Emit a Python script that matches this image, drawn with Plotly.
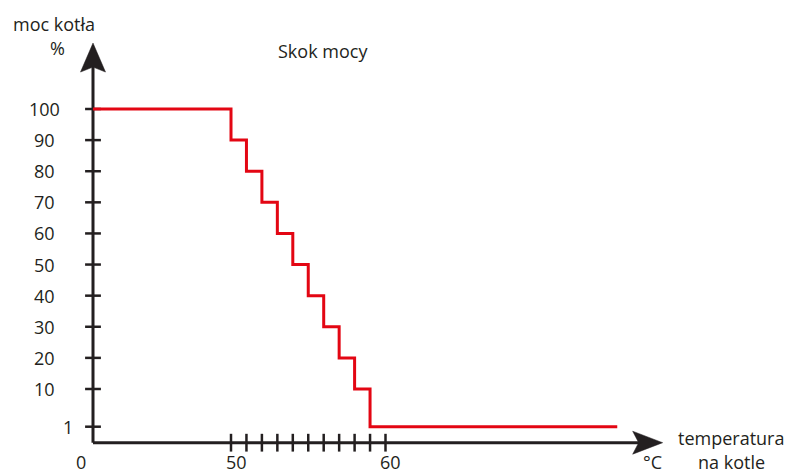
import plotly.graph_objects as go

# ---------------- data ----------------
temperature = [0, 50, 51, 52, 53, 54, 55, 56, 57, 58, 59, 75]
power = [100, 90, 80, 70, 60, 50, 40, 30, 20, 10, 1, 1]

y_tick_values = [100, 90, 80, 70, 60, 50, 40, 30, 20, 10, 1]
y_tick_labels = ["100", "90", "80", "70", "60", "50", "40", "30", "20", "10", "1"]
x_tick_values = [50, 51, 52, 53, 54, 55, 56, 57, 58, 59, 60]
x_label_values = [0, 50, 60]
x_label_texts = ["0", "50", "60"]

title_text = "Skok mocy"
y_title_lines = ["moc kotła", "%"]
x_title_lines = ["temperatura", "na kotle"]
x_unit = "°C"

# ---------------- layout constants ----------------
W, H = 787, 476
RED = "#e30613"
INK = "#231f20"
FONT = "Open Sans"

X_PX_PER_UNIT = 15.45   # px per degree in the 50..60 zone
X50_PX = 231            # pixel of 50 degrees
ORIGIN_PX = 93          # pixel of the y axis
Y_PX_PER_UNIT = 3.111
Y100_PX = 109
Y1_PX = 426.7
YAXIS_PX = 442.7

U0 = 50 - (X50_PX - ORIGIN_PX) / X_PX_PER_UNIT  # plot coordinate of 0 degrees


def xmap(t):
    """broken temperature axis: 0..50 compressed, 1 unit per degree above 50"""
    if t >= 50:
        return t
    return U0 + t * (50 - U0) / 50


W10 = 10.0
W1 = 10 - (Y1_PX - (Y100_PX + 90 * Y_PX_PER_UNIT)) / Y_PX_PER_UNIT
W0 = 10 - (YAXIS_PX - (Y100_PX + 90 * Y_PX_PER_UNIT)) / Y_PX_PER_UNIT


def ymap(v):
    """broken power axis: linear above 10, stretched between 0..10"""
    if v >= 10:
        return v
    if v >= 1:
        return W1 + (v - 1) * (W10 - W1) / 9
    return W0 + v * (W1 - W0)


x_range = [50 - X50_PX / X_PX_PER_UNIT, 50 + (W - X50_PX) / X_PX_PER_UNIT]
y_range = [100 - (H - Y100_PX) / Y_PX_PER_UNIT, 100 + Y100_PX / Y_PX_PER_UNIT]

X_ARROW_TIP = 77.94   # plot coordinate of x arrow tip
Y_ARROW_TIP = 121.2   # plot coordinate of y arrow tip

fig = go.Figure()

# tick marks
fig.add_trace(go.Scatter(
    x=[xmap(t) for t in x_tick_values], y=[ymap(0)] * len(x_tick_values),
    mode="markers", hoverinfo="skip", showlegend=False,
    marker=dict(symbol="line-ns", size=12.7, line=dict(width=2.5, color=INK), color=INK),
))
fig.add_trace(go.Scatter(
    x=[xmap(0)] * len(y_tick_values), y=[ymap(v) for v in y_tick_values],
    mode="markers", hoverinfo="skip", showlegend=False,
    marker=dict(symbol="line-ew", size=11.3, line=dict(width=2.5, color=INK), color=INK),
))

# red step line
fig.add_trace(go.Scatter(
    x=[xmap(t) for t in temperature], y=[ymap(v) for v in power],
    mode="lines", line=dict(color=RED, width=3, shape="hv"),
    hoverinfo="skip", showlegend=False,
))

shapes = []
# axis lines
shapes.append(dict(type="line", xref="x", yref="y", x0=xmap(0), x1=X_ARROW_TIP - 1.2,
                   y0=ymap(0), y1=ymap(0), line=dict(color=INK, width=3), layer="below"))
shapes.append(dict(type="line", xref="x", yref="y", x0=xmap(0), x1=xmap(0),
                   y0=ymap(0), y1=Y_ARROW_TIP - 6, line=dict(color=INK, width=3), layer="below"))
# arrow heads (pixel-sized paths anchored at the tips)
shapes.append(dict(type="path", xref="x", yref="y", xsizemode="pixel", ysizemode="pixel",
                   xanchor=X_ARROW_TIP, yanchor=ymap(0),
                   path="M0,0 L-30,11.5 L-24,0 L-30,-11.5 Z",
                   fillcolor=INK, line=dict(color=INK, width=0.5)))
shapes.append(dict(type="path", xref="x", yref="y", xsizemode="pixel", ysizemode="pixel",
                   xanchor=xmap(0), yanchor=Y_ARROW_TIP,
                   path="M0,0 L-12.5,-29 L0,-24 L12.5,-29 Z",
                   fillcolor=INK, line=dict(color=INK, width=0.5)))

annotations = []


def ann_px(text, px, py, xanchor="center", yanchor="middle"):
    annotations.append(dict(text=text, xref="paper", yref="paper", x=px / W, y=1 - py / H,
                            xanchor=xanchor, yanchor=yanchor, showarrow=False,
                            font=dict(family=FONT, size=18, color=INK)))


ann_px(y_title_lines[0], 54, 24)
ann_px(y_title_lines[1], 57, 48)
ann_px(title_text, 322.5, 51)
ann_px(x_title_lines[0], 731, 438)
ann_px(x_title_lines[1], 731, H, yanchor="bottom")
ann_px(x_unit, 652, H, yanchor="bottom")

for v, lbl in zip(y_tick_values, y_tick_labels):
    cx = 68 if lbl == "1" else 44
    annotations.append(dict(text=lbl, xref="paper", yref="y", x=cx / W, y=ymap(v),
                            xanchor="center", yanchor="middle", showarrow=False,
                            font=dict(family=FONT, size=18, color=INK)))

for t, lbl in zip(x_label_values, x_label_texts):
    shift = -12 if t == 0 else 5
    annotations.append(dict(text=lbl, xref="x", yref="paper", x=xmap(t), y=0,
                            xshift=shift, xanchor="center", yanchor="bottom", showarrow=False,
                            font=dict(family=FONT, size=18, color=INK)))

fig.update_layout(
    width=W, height=H,
    margin=dict(l=0, r=0, t=0, b=0),
    paper_bgcolor="white", plot_bgcolor="white",
    xaxis=dict(range=x_range, visible=False, fixedrange=True),
    yaxis=dict(range=y_range, visible=False, fixedrange=True),
    shapes=shapes, annotations=annotations,
    showlegend=False,
)

fig.write_html("out.html", config={"displayModeBar": False},
               post_script="document.body.style.margin='0';document.body.style.overflow='hidden';")
